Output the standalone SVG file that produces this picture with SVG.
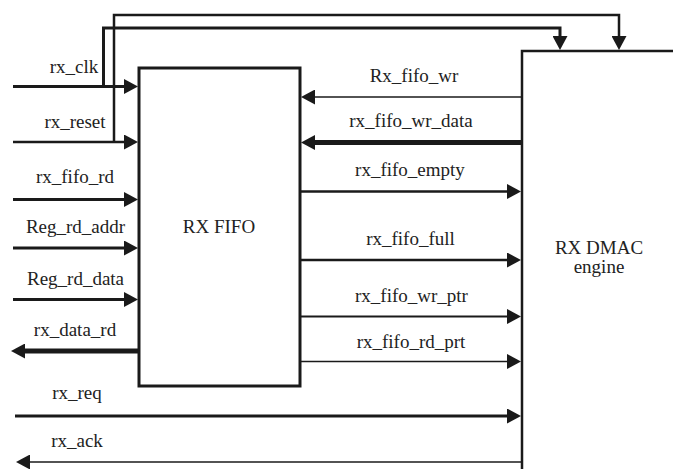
<svg xmlns="http://www.w3.org/2000/svg" width="673" height="469" viewBox="0 0 673 469">
<style>
text{font-family:"Liberation Serif","Times New Roman",serif;font-size:19px;fill:#222;text-anchor:middle}
.c{fill:none;stroke:#1a1a1a}
</style>
<defs>
<marker id="ah" viewBox="0 0 14 15" refX="1" refY="7.5" markerUnits="userSpaceOnUse" markerWidth="14" markerHeight="15" orient="auto">
<path d="M0,0 L14,7.5 L0,15 z" fill="#1a1a1a"/>
</marker>
</defs>
<rect width="673" height="469" fill="#fff"/>
<g id="rx_fifo">
<rect x="139" y="68" width="161" height="318" fill="#fff" stroke="#1a1a1a" stroke-width="3"/>
<text x="219" y="233">RX FIFO</text>
</g>
<g id="rx_dmac">
<path d="M522,469 V51 H673" fill="none" stroke="#1a1a1a" stroke-width="2.5"/>
<text x="599" y="254">RX DMAC</text>
<text x="599" y="273">engine</text>
</g>
<g id="connectors">
<path class="c" stroke-width="3" d="M13,86.5 H125" marker-end="url(#ah)"/>
<path class="c" stroke-width="3" d="M103.5,86.5 V28 H560 V37" marker-end="url(#ah)"/>
<path class="c" stroke-width="2.5" d="M13,142 H125" marker-end="url(#ah)"/>
<path class="c" stroke-width="2.5" d="M114,142 V15 H619 V37" marker-end="url(#ah)"/>
<path class="c" stroke-width="3" d="M13,199.5 H125" marker-end="url(#ah)"/>
<path class="c" stroke-width="3" d="M13,248 H125" marker-end="url(#ah)"/>
<path class="c" stroke-width="3" d="M13,299.5 H125" marker-end="url(#ah)"/>
<path class="c" stroke-width="5" d="M139,351 H24" marker-end="url(#ah)"/>
<path class="c" stroke-width="3" d="M15,416 H508" marker-end="url(#ah)"/>
<path class="c" stroke-width="1.5" d="M522,462 H29" marker-end="url(#ah)"/>
<path class="c" stroke-width="1.5" d="M522,97 H314" marker-end="url(#ah)"/>
<path class="c" stroke-width="5" d="M522,142.5 H314" marker-end="url(#ah)"/>
<path class="c" stroke-width="2.5" d="M300,191.5 H508" marker-end="url(#ah)"/>
<path class="c" stroke-width="2.5" d="M300,260 H508" marker-end="url(#ah)"/>
<path class="c" stroke-width="2" d="M300,316.5 H508" marker-end="url(#ah)"/>
<path class="c" stroke-width="1.5" d="M300,361.5 H508" marker-end="url(#ah)"/>
</g>
<g id="labels">
<text x="74" y="73">rx_clk</text>
<text x="75" y="128">rx_reset</text>
<text x="75" y="183">rx_fifo_rd</text>
<text x="75.5" y="233">Reg_rd_addr</text>
<text x="75.5" y="285">Reg_rd_data</text>
<text x="75" y="336">rx_data_rd</text>
<text x="77" y="399">rx_req</text>
<text x="77" y="447">rx_ack</text>
<text x="414" y="82">Rx_fifo_wr</text>
<text x="411" y="127">rx_fifo_wr_data</text>
<text x="410" y="176">rx_fifo_empty</text>
<text x="410.5" y="245">rx_fifo_full</text>
<text x="411.5" y="302">rx_fifo_wr_ptr</text>
<text x="411" y="348">rx_fifo_rd_prt</text>
</g>
</svg>
